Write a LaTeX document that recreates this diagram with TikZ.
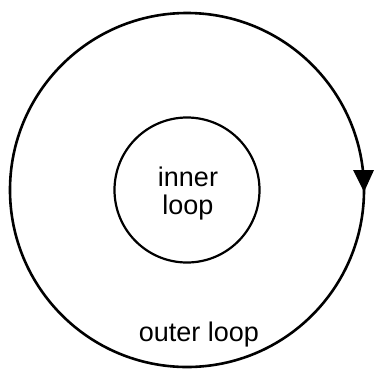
\documentclass[tikz,border=0pt]{standalone}
\usepackage{fontspec}
\setmainfont{Liberation Sans}
\begin{document}
\begin{tikzpicture}[x=1pt, y=1pt,
  ring/.style={draw=black, circle, inner sep=0pt},
  lbl/.style={font=\fontsize{27}{28}\selectfont, inner sep=0pt, align=center}
]
\useasboundingbox (-187,-178) rectangle (187,190);

%% Loops
\node[ring, line width=2.6pt, minimum size=354pt] (outer) at (0,0) {};
\node[ring, line width=2.2pt, minimum size=145pt] (inner) at (0,0) {};

%% Direction mark on the outer loop
\fill (166,20) -- (187,20) -- (177,-2) -- cycle;

%% Labels
\node[lbl] (innerlbl) at (1,-3.5) {inner\\loop};
\node[lbl, anchor=base] (outerlbl) at (12,-151) {outer loop};
\end{tikzpicture}
\end{document}
